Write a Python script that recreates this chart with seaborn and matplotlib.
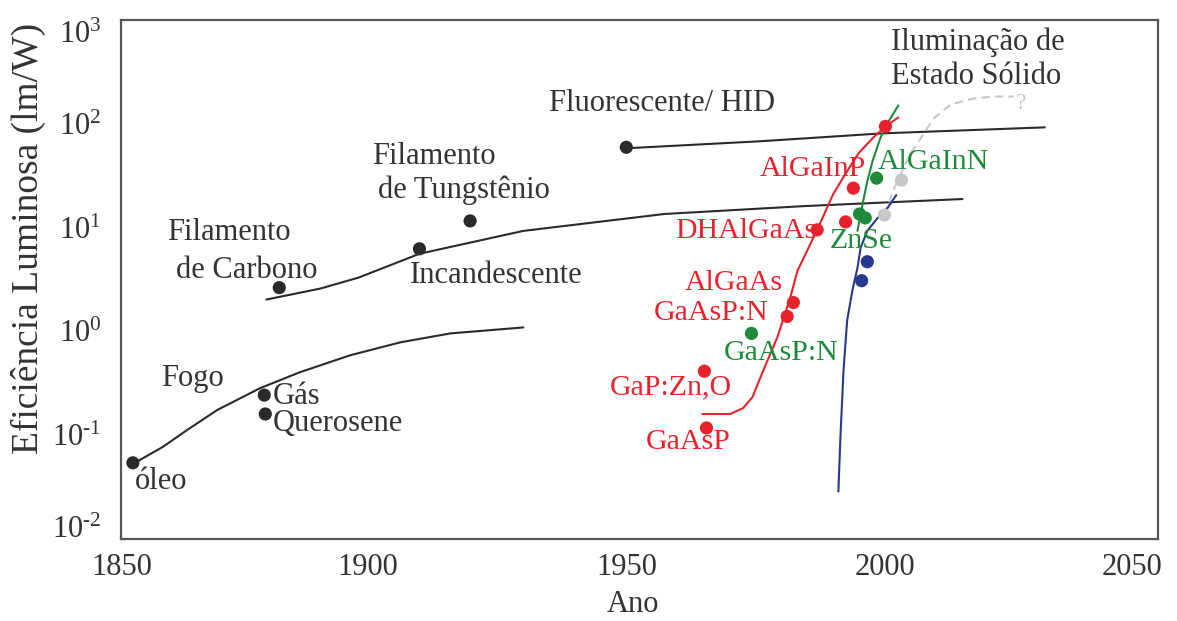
import numpy as np
import pandas as pd
import matplotlib
matplotlib.use("Agg")
import matplotlib.pyplot as plt
import matplotlib.ticker as mticker
import matplotlib.transforms as mtrans
import seaborn as sns

# ---------------- data ----------------
# black (traditional) curves
fire_years = [1854.9, 1860.3, 1865.0, 1870.8, 1879.1, 1886.8, 1896.5, 1906.2, 1915.9, 1930.0]
fire_eff = [0.0543, 0.0772, 0.1124, 0.1748, 0.2841, 0.4045, 0.5886, 0.7845, 0.9568, 1.092]

incand_years = [1880.3, 1890.7, 1898.1, 1909.9, 1930.0, 1957.3, 1984.7, 2014.9]
incand_eff = [2.027, 2.584, 3.294, 5.595, 9.298, 13.53, 16.15, 18.85]

fluor_years = [1949.9, 1975.6, 1999.4, 2030.8]
fluor_eff = [58.1, 67.8, 80.9, 92.4]

black_pt_years = [1854.5, 1879.9, 1880.1, 1882.8, 1909.9, 1919.7, 1949.9]
black_pt_eff = [0.0542, 0.2434, 0.160, 2.64, 6.25, 11.6, 59.4]

# LED curves
red_years = [1964.6, 1970.0, 1972.5, 1974.3, 1976.4, 1979.1, 1981.6, 1983.0, 1986.8,
             1989.9, 1992.6, 1994.8, 1997.5, 2000.0, 2002.5]
red_eff = [0.160, 0.160, 0.1827, 0.2330, 0.4228, 0.876, 2.118, 3.845, 9.51,
           21.05, 34.97, 52.0, 72.4, 94.4, 115.2]
red_pt_years = [1965.4, 1965.0, 1981.0, 1982.2, 1986.8, 1992.3, 1993.8, 2000.0]
red_pt_eff = [0.1175, 0.4136, 1.392, 1.897, 9.51, 11.34, 24.0, 94.4]

green_years = [1994.6, 1995.2, 1995.7, 1996.5, 1997.5, 1999.0, 2000.0, 2002.5]
green_eff = [9.30, 13.53, 18.03, 28.0, 43.6, 72.4, 94.4, 150.1]
green_pt_years = [1974.1, 1995.0, 1996.1, 1998.3]
green_pt_eff = [0.957, 13.53, 12.39, 29.96]

blue_years = [1990.9, 1991.3, 1991.9, 1992.6, 1993.6, 1994.6, 1995.2, 1996.5, 1998.5, 2000.4, 2002.1]
blue_eff = [0.0286, 0.0963, 0.4228, 1.275, 2.473, 4.108, 6.39, 9.30, 12.39, 15.45, 20.58]
blue_pt_years = [1996.5, 1995.4]
blue_pt_eff = [4.69, 3.08]

gray_years = [1999.8, 2000.6, 2001.5, 2002.3, 2004.8, 2007.7, 2009.3, 2012.6, 2017.0, 2020.9, 2024.8]
gray_eff = [13.24, 16.87, 22.48, 28.04, 50.9, 84.6, 112.7, 153.5, 175.2, 183.1, 183.1]
gray_pt_years = [2003.1, 1999.8]
gray_pt_eff = [28.7, 13.24]

# labels: (text, x, y, ha)
black_labels = [
    ("Filamento", 1861.1, 8.90, "left"),
    ("de Carbono", 1862.9, 3.85, "left"),
    ("Filamento", 1900.8, 48.7, "left"),
    ("de Tungstênio", 1901.9, 23.0, "left"),
    ("Incandescente", 1908.1, 3.44, "left"),
    ("Fogo", 1860.0, 0.354, "left"),
    ("Gás", 1881.6, 0.236, "left"),
    ("Querosene", 1881.6, 0.130, "left"),
    ("óleo", 1854.9, 0.0357, "left"),
    ("Fluorescente/ HID", 1935.0, 156.9, "left"),
    ("Iluminação de", 2001.0, 616.6, "left"),
    ("Estado Sólido", 2001.0, 284.8, "left"),
]
red_labels = [
    ("AlGaInP", 1996.3, 36.5, "right"),
    ("DHAlGaAs", 1986.7, 9.30, "right"),
    ("AlGaAs", 1980.1, 2.95, "right"),
    ("GaAsP:N", 1977.4, 1.488, "right"),
    ("GaP:Zn,O", 1970.4, 0.2904, "right"),
    ("GaAsP", 1970.0, 0.0863, "right"),
]
green_labels = [
    ("AlGaInN", 1998.5, 42.7, "left"),
    ("ZnSe", 1989.2, 7.46, "left"),
    ("GaAsP:N", 1968.7, 0.615, "left"),
]
question_label = ("?", 2026.3, 156.9)

x_ticks = [1900, 1950, 2000]
x_tick_labels = ["1900", "1950", "2000"]
x_edge_labels = [("1850", 1852.4), ("2050", 2047.7)]
y_ticks = [1e-2, 1e-1, 1e0, 1e1, 1e2, 1e3]
y_exponents = ["-2", "-1", "0", "1", "2", "3"]
x_label = "Ano"
y_label = "Eficiência Luminosa (lm/W)"

# ---------------- style ----------------
sns.set_style("white")
plt.rcParams["font.family"] = ["Liberation Serif", "DejaVu Serif"]
plt.rcParams["mathtext.fontset"] = "custom"
plt.rcParams["mathtext.rm"] = "Liberation Serif"
plt.rcParams["mathtext.it"] = "Liberation Serif:italic"
plt.rcParams["axes.unicode_minus"] = False

BLACK = "#2a2a2a"
TXT = "#333333"
RED = "#e8222c"
GREEN = "#1e8a3c"
BLUE = "#27398c"
GRAY = "#c8c8c8"

fig = plt.figure(figsize=(11.77, 6.21), dpi=100)
ax = fig.add_axes([121 / 1177, (621 - 539) / 621, (1158 - 121) / 1177, (539 - 20) / 621])
ax.set_yscale("log")

def line(xs, ys, color, **kw):
    df = pd.DataFrame({"x": xs, "y": ys})
    sns.lineplot(data=df, x="x", y="y", sort=False, estimator=None, color=color,
                 lw=1.5, ax=ax, **kw)

def pts(xs, ys, color):
    df = pd.DataFrame({"x": xs, "y": ys})
    sns.scatterplot(data=df, x="x", y="y", color=color, s=90, edgecolor="none",
                    ax=ax, zorder=5)

line(fire_years, fire_eff, BLACK)
line(incand_years, incand_eff, BLACK)
line(fluor_years, fluor_eff, BLACK)
line(red_years, red_eff, RED, zorder=3)
line(green_years, green_eff, GREEN, zorder=3)
line(blue_years, blue_eff, BLUE, zorder=3)
line(gray_years, gray_eff, GRAY, linestyle=(0, (4, 2.5)), zorder=2)

pts(black_pt_years, black_pt_eff, BLACK)
pts(gray_pt_years, gray_pt_eff, GRAY)
pts(blue_pt_years, blue_pt_eff, BLUE)
pts(green_pt_years, green_pt_eff, GREEN)
pts(red_pt_years, red_pt_eff, RED)

for t, x, y, ha in black_labels:
    ax.text(x, y, t, ha=ha, va="center", fontsize=22, color=TXT)
for t, x, y, ha in red_labels:
    ax.text(x, y, t, ha=ha, va="center", fontsize=21.5, color=RED)
for t, x, y, ha in green_labels:
    ax.text(x, y, t, ha=ha, va="center", fontsize=21.5, color=GREEN)
ax.text(question_label[1], question_label[2], question_label[0], ha="center",
        va="center", fontsize=17, color=GRAY)

# axes
ax.set_xlim(1852.2, 2052.7)
ax.set_ylim(1e-2, 1e3)
ax.set_xticks(x_ticks)
ax.set_xticklabels(x_tick_labels)
ax.yaxis.set_major_locator(mticker.FixedLocator(y_ticks))
ax.yaxis.set_major_formatter(mticker.FixedFormatter(
    [r"$10^{\text{%s}}$" % e for e in y_exponents]))
ax.yaxis.set_minor_locator(mticker.NullLocator())
ax.set_xlabel("")
ax.set_ylabel("")
ax.tick_params(axis="x", direction="in", length=10, width=1.5, color="#444444",
               labelsize=22, pad=10, labelcolor=TXT)
ax.tick_params(axis="y", direction="out", length=8, width=1.5, color="#444444",
               labelsize=22, pad=6, labelcolor=TXT)
yt = ax.yaxis.get_major_ticks()
for i in (0, len(yt) - 1):
    yt[i].tick1line.set_visible(False)
# nudge end labels inward like the reference
fig.canvas.draw()
lbls = ax.get_yticklabels()
lbls[0].set_transform(lbls[0].get_transform() + mtrans.ScaledTranslation(0, 12 / 100, fig.dpi_scale_trans))
lbls[-1].set_transform(lbls[-1].get_transform() + mtrans.ScaledTranslation(0, -12 / 100, fig.dpi_scale_trans))

xt = ax.get_xaxis_transform()
for t, x in x_edge_labels:
    ax.text(x, -14 / 519, t, transform=xt, ha="center", va="top", fontsize=22, color=TXT)

for s in ax.spines.values():
    s.set_visible(True)
    s.set_color("#555555")
    s.set_linewidth(1.6)

fig.text(633 / 1177, 1 - 605 / 621, x_label, ha="center", va="center", fontsize=22, color=TXT)
fig.text(28 / 1177, 1 - 238 / 621, y_label, ha="center", va="center", rotation=90,
         fontsize=27, color=TXT)

fig.savefig("out.png", dpi=100)
